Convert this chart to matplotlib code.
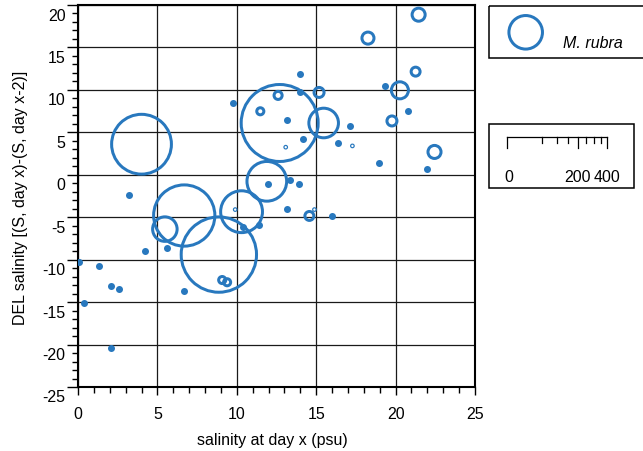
import matplotlib
matplotlib.use('Agg')
import matplotlib.pyplot as plt
import matplotlib.transforms as mtransforms
from matplotlib.patches import Rectangle
import numpy as np

plt.rcParams['font.family'] = ['Liberation Sans', 'DejaVu Sans']
plt.rcParams['axes.unicode_minus'] = False

# stations: salinity at day x, salinity change, M. rubra abundance (0 = absent)
sal_x = [4.0, 12.7, 8.87, 6.69, 10.3, 11.89, 15.47, 5.47, 20.27, 21.45,
         18.26, 22.45, 21.26, 15.18, 19.77, 12.6, 11.48, 14.57, 9.08, 9.39,
         13.08, 17.28, 9.9, 14.89,
         9.77, 3.2, 13.98, 19.35, 13.98, 20.78, 13.19, 17.12, 14.19, 16.37,
         18.97, 21.97, 11.97, 13.38, 13.9, 13.19, 16.0, 10.36, 11.4, 4.19,
         5.6, 6.69, 0.08, 1.3, 2.1, 2.6, 0.4, 2.1]
del_s = [3.6, 6.1, -9.4, -4.8, -4.35, -0.77, 6.1, -6.4, 9.95, 18.86,
         16.1, 2.69, 12.15, 9.7, 6.34, 9.35, 7.48, -4.85, -12.4, -12.66,
         3.25, 3.4, -4.1, -4.1,
         8.46, -2.43, 11.87, 10.46, 9.79, 7.55, 6.45, 5.78, 4.22, 3.8,
         1.35, 0.64, -1.14, -0.61, -1.05, -4.03, -4.8, -6.2, -5.9, -8.94,
         -8.6, -13.65, -10.23, -10.8, -13.1, -13.45, -15.1, -20.4]
abund = [143, 237, 227, 150, 70, 63, 35, 24, 11.6, 6.8,
         5.8, 6.8, 3.2, 4, 4, 2.6, 2, 3.2, 2, 2,
         0.5, 0.5, 0.5, 0.5] + [0] * 28

legend_value = 45
scale_ticks = [0, 50, 100, 150, 200, 250, 300, 350, 400]
scale_labels = [0, 200, 400]

blue = '#2878be'
fs = 11.5
W, H = 643, 452
fig = plt.figure(figsize=(W / 100, H / 100), dpi=100)
ax = fig.add_axes([78 / W, (H - 388) / H, 397 / W, 382 / H])

sal_x = np.array(sal_x)
del_s = np.array(del_s)
abund = np.array(abund, dtype=float)


def diam_px(v):
    # symbol diameter in pixels, 400 -> 100 px
    return 100 * np.sqrt(np.asarray(v, dtype=float) / 400)


pres = abund > 0
d = diam_px(abund[pres])
lw_px = np.where(d < 5, 1.2, 3.0)
ax.scatter(sal_x[pres], del_s[pres], s=(d * 0.72) ** 2, facecolors='none',
           edgecolors=blue, linewidths=lw_px * 0.72, zorder=3)
ax.scatter(sal_x[~pres], del_s[~pres], s=(7 * 0.72) ** 2, color=blue,
           linewidths=0, zorder=3)

ax.set_xlim(0, 25)
ax.set_ylim(-25, 20)
ax.set_xticks(np.arange(0, 26, 5))
ax.set_xticks(np.arange(0, 26, 1), minor=True)
ax.set_yticks(np.arange(-25, 21, 5))
ax.set_yticks(np.arange(-25, 21, 1), minor=True)
ax.grid(True, which='major', color='#1a1a1a', lw=0.9)
ax.set_axisbelow(True)
for s in ax.spines.values():
    s.set_linewidth(1.5)
ax.tick_params(axis='x', which='major', length=6, width=1, labelsize=fs, pad=8)
ax.tick_params(axis='x', which='minor', length=4.5, width=1)
ax.tick_params(axis='y', which='major', length=8, width=1, labelsize=fs, pad=1)
ax.tick_params(axis='y', which='minor', length=4.5, width=1)

# y tick labels sit one unit below their ticks
offset = mtransforms.ScaledTranslation(0, -0.085, fig.dpi_scale_trans)
for lab in ax.get_yticklabels():
    lab.set_transform(lab.get_transform() + offset)

ax.set_xlabel('salinity at day x (psu)', fontsize=fs, va='center')
ax.xaxis.set_label_coords(0.49, -0.138)
ax.set_ylabel('DEL salinity [(S, day x)-(S, day x-2)]', fontsize=fs, va='center')
ax.yaxis.set_label_coords(-0.145, 0.497)

# legend panel in pixel coordinates
lax = fig.add_axes([0, 0, 1, 1])
lax.set_xlim(0, W)
lax.set_ylim(H, 0)
lax.axis('off')
lax.patch.set_alpha(0)
lax.add_patch(Rectangle((489, 7), 160, 52, fill=False, lw=1.1, ec='black'))
lax.add_patch(Rectangle((489, 125), 145, 64, fill=False, lw=1.1, ec='black'))
ld = diam_px(legend_value)
lax.scatter([525.7], [33.3], s=(ld * 0.72) ** 2, facecolors='none',
            edgecolors=blue, linewidths=3 * 0.72)
lax.text(563, 43, 'M. rubra', style='italic', fontsize=fs, va='center', ha='left')

x0, yb = 507, 138
lax.plot([x0, x0 + diam_px(400)], [yb, yb], color='black', lw=0.9)
for v in scale_ticks:
    xt = x0 + diam_px(v)
    ln = 11 if v in scale_labels else 6
    lax.plot([xt, xt], [yb, yb + ln], color='black', lw=0.9)
for v in scale_labels:
    lax.text(x0 + diam_px(v) + (2 if v == 0 else 0), 178, str(v), fontsize=fs,
             ha='center', va='center')

fig.savefig('out.png', dpi=100)
